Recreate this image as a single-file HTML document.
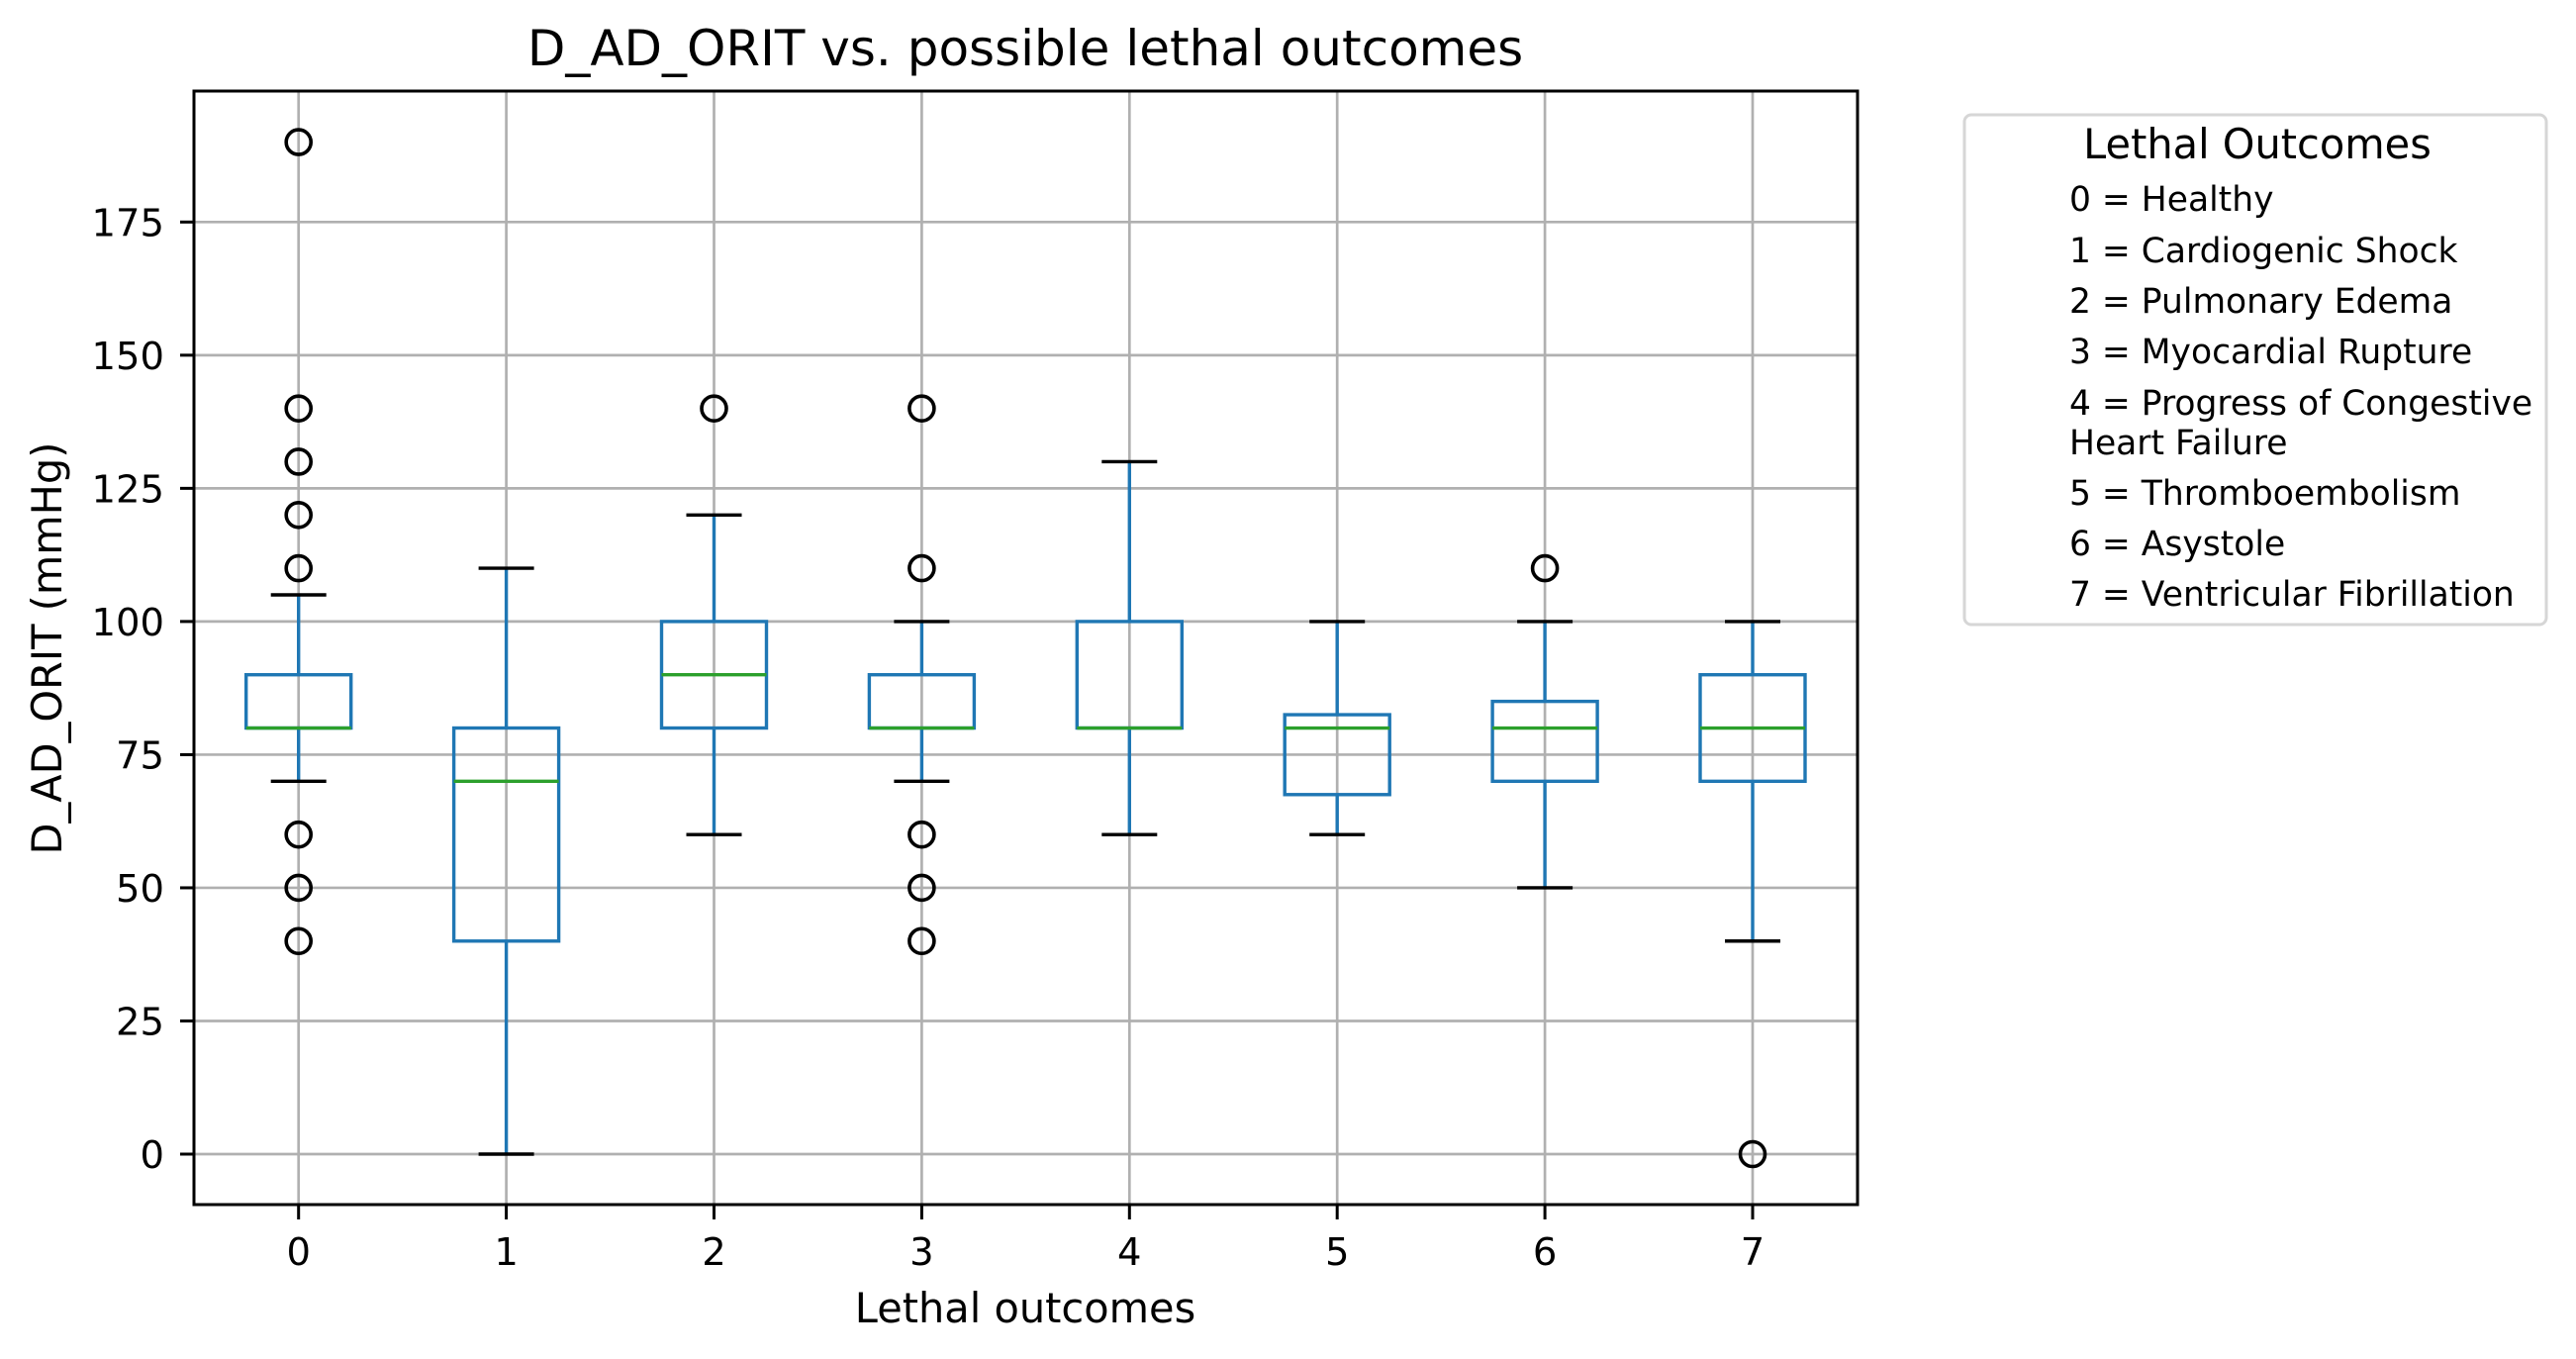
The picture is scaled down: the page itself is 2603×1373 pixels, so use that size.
<!DOCTYPE html>
<html><head><meta charset="utf-8"><style>
html,body{margin:0;padding:0;background:#fff;}
svg{display:block;font-family:"DejaVu Sans","Liberation Sans",sans-serif;}
</style></head><body>
<svg id="chart" width="2603" height="1373" viewBox="0 0 2603 1373">
<g id="grid"></g>
<g id="boxes"></g>
<rect x="196" y="92" width="1681" height="1125" fill="none" stroke="#000" stroke-width="3"/>
<g id="ticks"></g>
<text x="1036" y="66" font-size="50" text-anchor="middle">D_AD_ORIT vs. possible lethal outcomes</text>
<text x="1036" y="1336" font-size="41.5" text-anchor="middle">Lethal outcomes</text>
<text transform="translate(62,655) rotate(-90)" font-size="41.5" text-anchor="middle">D_AD_ORIT (mmHg)</text>
<g>
<rect x="1985" y="116" width="588" height="515" rx="7" fill="#fff" stroke="#d6d6d6" stroke-width="3"/>
<text x="2281" y="160" font-size="41.5" text-anchor="middle">Lethal Outcomes</text>
<g font-size="34.5">
<text x="2091" y="213">0 = Healthy</text>
<text x="2091" y="265">1 = Cardiogenic Shock</text>
<text x="2091" y="316">2 = Pulmonary Edema</text>
<text x="2091" y="367">3 = Myocardial Rupture</text>
<text x="2091" y="419">4 = Progress of Congestive</text>
<text x="2091" y="459">Heart Failure</text>
<text x="2091" y="510">5 = Thromboembolism</text>
<text x="2091" y="561">6 = Asystole</text>
<text x="2091" y="612">7 = Ventricular Fibrillation</text>
</g></g>
</svg>
<script>
const categories = ["0","1","2","3","4","5","6","7"];
const whiskerLow = [70, 0, 60, 70, 60, 60, 50, 40];
const q1 = [80, 40, 80, 80, 80, 67.5, 70, 70];
const medians = [80, 70, 90, 80, 80, 80, 80, 80];
const q3 = [90, 80, 100, 90, 100, 82.5, 85, 90];
const whiskerHigh = [105, 110, 120, 100, 130, 100, 100, 100];
const outliers = [[190,140,130,120,110,60,50,40],[],[140],[140,110,60,50,40],[],[],[110],[0]];
const yTicks = [0,25,50,75,100,125,150,175];

const NS = "http://www.w3.org/2000/svg";
const xPos = i => 301.7 + i * 209.9;
const yPos = v => 1166 - v * 5.381;
function mk(parent, tag, attrs){const e=document.createElementNS(NS,tag);for(const k in attrs)e.setAttribute(k,attrs[k]);parent.appendChild(e);return e;}
const grid=document.getElementById('grid'), boxes=document.getElementById('boxes'), ticks=document.getElementById('ticks');
yTicks.forEach(v=>{
  const y=yPos(v);
  const g=mk(grid,'line',{x1:196,x2:1877,y1:y,y2:y,stroke:'#b0b0b0','stroke-width':2.7});
  
  
  const t=mk(ticks,'line',{x1:182,x2:196,y1:y,y2:y,stroke:'#000','stroke-width':3});
  
  
  const l=mk(ticks,'text',{x:166,y:y+14,'font-size':38.5,'text-anchor':'end'});
  l.textContent=v;
  
  
});
categories.forEach((c,i)=>{
  const x=xPos(i);
  const g=mk(grid,'line',{x1:x,x2:x,y1:92,y2:1217,stroke:'#b0b0b0','stroke-width':2.7});
  
  
  const t=mk(ticks,'line',{x1:x,x2:x,y1:1217,y2:1232,stroke:'#000','stroke-width':3});
  
  
  const l=mk(ticks,'text',{x:x,y:1278,'font-size':38.5,'text-anchor':'middle'});
  l.textContent=c;
  
  
  const grp=mk(boxes,'g',{});
  
  
  const blue='#1f77b4', hw=53, cw=28;
  mk(grp,'line',{x1:x,x2:x,y1:yPos(q3[i]),y2:yPos(whiskerHigh[i]),stroke:blue,'stroke-width':3.4});
  mk(grp,'line',{x1:x,x2:x,y1:yPos(q1[i]),y2:yPos(whiskerLow[i]),stroke:blue,'stroke-width':3.4});
  mk(grp,'line',{x1:x-cw,x2:x+cw,y1:yPos(whiskerHigh[i]),y2:yPos(whiskerHigh[i]),stroke:'#000','stroke-width':3.4});
  mk(grp,'line',{x1:x-cw,x2:x+cw,y1:yPos(whiskerLow[i]),y2:yPos(whiskerLow[i]),stroke:'#000','stroke-width':3.4});
  mk(grp,'rect',{x:x-hw,y:yPos(q3[i]),width:2*hw,height:yPos(q1[i])-yPos(q3[i]),fill:'none',stroke:blue,'stroke-width':3.4});
  mk(grp,'line',{x1:x-hw,x2:x+hw,y1:yPos(medians[i]),y2:yPos(medians[i]),stroke:'#2ca02c','stroke-width':3.4});
  outliers[i].forEach(v=>{
    const o=mk(grp,'circle',{cx:x,cy:yPos(v),r:12.5,fill:'none',stroke:'#000','stroke-width':3.6});
    
    
  });
});
</script>
</body></html>
